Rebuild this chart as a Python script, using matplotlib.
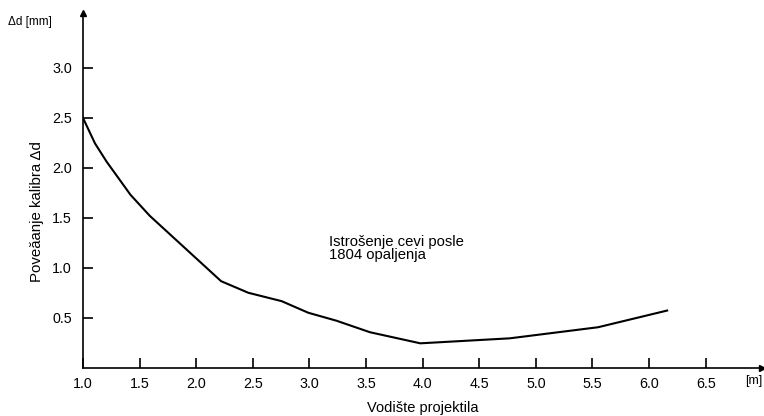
import matplotlib.pyplot as plt
import numpy as np

plt.rcParams["font.family"] = ["Liberation Sans", "DejaVu Sans"]

# Data
x_m = [1.0, 1.106, 1.21, 1.42, 1.59, 2.22, 2.46, 2.755, 2.99, 3.24, 3.535, 3.98, 4.77, 5.55, 6.16]
delta_d = [2.5, 2.245, 2.06, 1.73, 1.52, 0.866, 0.75, 0.666, 0.55, 0.47, 0.355, 0.244, 0.294, 0.405, 0.572]
x_ticks = [1.0, 1.5, 2.0, 2.5, 3.0, 3.5, 4.0, 4.5, 5.0, 5.5, 6.0, 6.5]
y_ticks = [0.5, 1.0, 1.5, 2.0, 2.5, 3.0]

fig = plt.figure(figsize=(7.64, 4.16), dpi=100)
ax = fig.add_axes([0.1086, 0.1161, 0.8891, 0.8527])

ax.plot(x_m, delta_d, color="black", lw=1.5, solid_joinstyle="miter")

ax.set_xlim(1.0, 7.0)
ax.set_ylim(0, 3.55)
ax.spines["top"].set_visible(False)
ax.spines["right"].set_visible(False)
for s in ("left", "bottom"):
    ax.spines[s].set_linewidth(1.2)

# axis arrows
ax.plot(1, 0, ">k", ms=5, transform=ax.transAxes, clip_on=False)
ax.plot(0, 1, "^k", ms=5, transform=ax.transAxes, clip_on=False)

ax.set_xticks(x_ticks)
ax.set_xticklabels([f"{t:.1f}" for t in x_ticks])
ax.set_yticks(y_ticks)
ax.set_yticklabels([f"{t:.1f}" for t in y_ticks])
ax.tick_params(direction="in", length=7, width=1.2, labelsize=10.3)
ax.tick_params(axis="x", pad=7)
ax.tick_params(axis="y", pad=8)

ax.set_xlabel("Vodište projektila", fontsize=10.5, labelpad=7)
ax.set_ylabel("Poveăanje kalibra Δd", fontsize=10.8)
ax.yaxis.set_label_coords(-0.057, 0.44)

fig.text(0.011, 0.947, "Δd [mm]", fontsize=8.5, ha="left", va="center")
fig.text(0.975, 0.084, "[m]", fontsize=9, ha="left", va="center")

ax.text(3.17, 1.33, "Istrošenje cevi posle\n1804 opaljenja", fontsize=10.7,
        ha="left", va="top", linespacing=0.95)

fig.savefig("out.png", dpi=100)
